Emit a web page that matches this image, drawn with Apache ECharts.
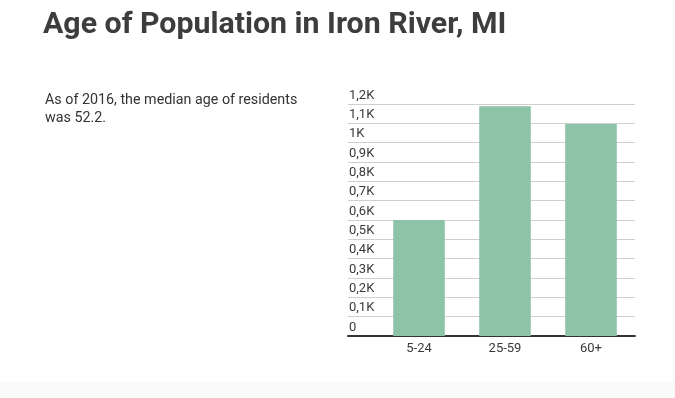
<!DOCTYPE html>
<html>
<head>
<meta charset="utf-8">
<script src="https://cdn.jsdelivr.net/npm/echarts@6/dist/echarts.min.js"></script>
<style>
  html, body { margin: 0; padding: 0; background: #fff; }
  #chart { width: 675px; height: 398px; }
  .foot { position: absolute; left: 0; top: 382px; width: 675px; height: 16px; background: #fafafa; }
</style>
</head>
<body>
<div id="chart"></div>
<div class="foot"></div>
<script>
// age groups and resident counts
const categories = ['5-24', '25-59', '60+'];
const residents = [600, 1188, 1097];
const yMax = 1200;
const yStep = 100;

function kLabel(v) {
  if (v === 0) return '0';
  if (v % 1000 === 0) return (v / 1000) + 'K';
  return (v / 1000).toFixed(1).replace('.', ',') + 'K';
}

const chart = echarts.init(document.getElementById('chart'));
chart.setOption({
  animation: false,
  title: [
    {
      text: 'Age of Population in Iron River, MI',
      left: 43,
      top: 10,
      padding: 0,
      textStyle: { fontFamily: 'Roboto', fontSize: 30.3, fontWeight: 'bold', color: '#3d3d3d' },
    },
    {
      text: 'As of 2016, the median age of residents\nwas 52.2.',
      left: 45,
      top: 91,
      padding: 0,
      textStyle: { fontFamily: 'Roboto', fontSize: 14.3, fontWeight: 'normal', color: '#333', lineHeight: 18 },
    },
  ],
  grid: [
    { left: 348, right: 40, top: 104, bottom: 62 },
    { left: 376, right: 41, top: 104, bottom: 62 },
  ],
  xAxis: [
    {
      gridIndex: 0,
      type: 'category',
      data: categories,
      axisLine: { show: true, lineStyle: { color: '#333', width: 2 } },
      axisTick: { show: false },
      axisLabel: { show: false },
    },
    {
      gridIndex: 1,
      type: 'category',
      data: categories,
      axisLine: { show: false },
      axisTick: { show: false },
      axisLabel: { color: '#3a3a3a', fontFamily: 'Roboto', fontSize: 13, margin: 6 },
    },
  ],
  yAxis: [
    {
      gridIndex: 0,
      type: 'value',
      min: 0,
      max: yMax,
      interval: yStep,
      axisLine: { show: false },
      axisTick: { show: false },
      splitLine: { lineStyle: { color: '#cfcfcf', width: 1 } },
      axisLabel: {
        inside: true,
        margin: 0,
        align: 'left',
        verticalAlign: 'bottom',
        padding: [0, 0, 2, 1],
        color: '#3a3a3a',
        fontFamily: 'Roboto',
        fontSize: 13,
        formatter: kLabel,
      },
    },
    {
      gridIndex: 1,
      type: 'value',
      min: 0,
      max: yMax,
      interval: yStep,
      show: false,
      splitLine: { show: false },
    },
  ],
  series: [
    {
      type: 'bar',
      xAxisIndex: 1,
      yAxisIndex: 1,
      data: residents,
      barCategoryGap: '40%',
      itemStyle: { color: '#8dc3a7' },
    },
  ],
});
window.addEventListener('resize', () => { chart.resize(); });
</script>
</body>
</html>
